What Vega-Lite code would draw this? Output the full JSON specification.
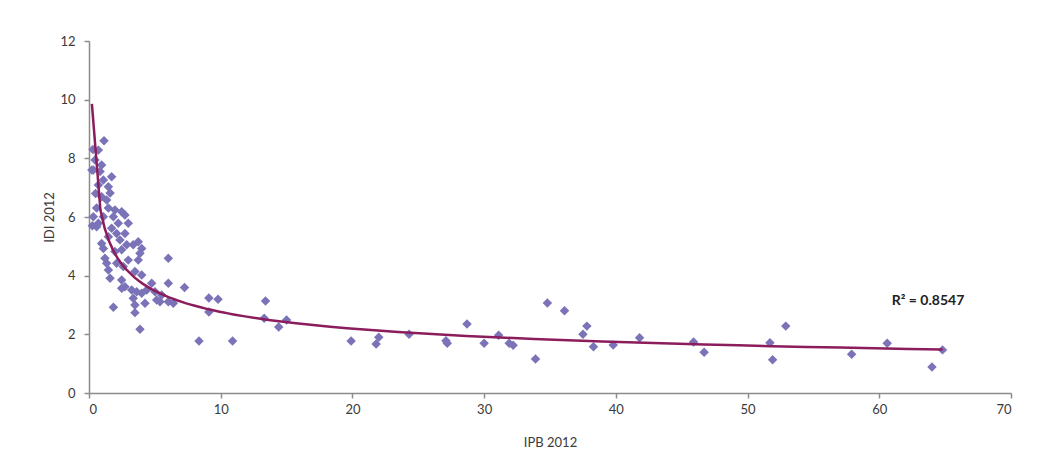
{
  "$schema": "https://vega.github.io/schema/vega-lite/v6.json",
  "width": 922,
  "height": 352,
  "autosize": {"type": "none"},
  "padding": {"left": 89, "top": 41, "right": 34, "bottom": 77},
  "background": "white",
  "config": {
    "view": {"stroke": null},
    "font": "Lato",
    "axis": {
      "grid": false,
      "domainColor": "#8c8c8c",
      "domainWidth": 1.5,
      "tickColor": "#8c8c8c",
      "tickWidth": 1.5,
      "tickSize": 5,
      "labelColor": "#3a3a3a",
      "labelFontSize": 13,
      "labelFont": "Lato",
      "titleFont": "Lato",
      "titleFontSize": 13,
      "titleFontWeight": "normal",
      "titleColor": "#3a3a3a"
    }
  },
  "data": {
    "values": [
      {"IPB": 0.22, "IDI": 7.6}, {"IPB": 0.25, "IDI": 5.7}, {"IPB": 0.3, "IDI": 8.3}, {"IPB": 0.5, "IDI": 6.8},
      {"IPB": 1.14, "IDI": 8.6}, {"IPB": 0.71, "IDI": 8.28}, {"IPB": 0.46, "IDI": 7.94}, {"IPB": 0.96, "IDI": 7.77},
      {"IPB": 0.33, "IDI": 7.6}, {"IPB": 0.84, "IDI": 7.55}, {"IPB": 1.72, "IDI": 7.37}, {"IPB": 1.09, "IDI": 7.26},
      {"IPB": 0.71, "IDI": 7.09}, {"IPB": 1.47, "IDI": 7.03}, {"IPB": 1.6, "IDI": 6.82}, {"IPB": 0.96, "IDI": 6.69},
      {"IPB": 1.34, "IDI": 6.58}, {"IPB": 0.58, "IDI": 6.31}, {"IPB": 1.47, "IDI": 6.31}, {"IPB": 1.97, "IDI": 6.24},
      {"IPB": 2.48, "IDI": 6.18}, {"IPB": 0.33, "IDI": 6.01}, {"IPB": 1.09, "IDI": 6.01}, {"IPB": 1.85, "IDI": 6.01},
      {"IPB": 2.73, "IDI": 6.07}, {"IPB": 2.98, "IDI": 5.79}, {"IPB": 0.71, "IDI": 5.79}, {"IPB": 2.22, "IDI": 5.79},
      {"IPB": 0.58, "IDI": 5.67}, {"IPB": 1.72, "IDI": 5.62}, {"IPB": 2.1, "IDI": 5.44}, {"IPB": 2.73, "IDI": 5.44},
      {"IPB": 1.47, "IDI": 5.33}, {"IPB": 2.35, "IDI": 5.22}, {"IPB": 0.96, "IDI": 5.1}, {"IPB": 3.74, "IDI": 5.16},
      {"IPB": 2.86, "IDI": 5.05}, {"IPB": 3.36, "IDI": 5.05}, {"IPB": 1.09, "IDI": 4.93}, {"IPB": 4.0, "IDI": 4.93},
      {"IPB": 2.48, "IDI": 4.88}, {"IPB": 1.97, "IDI": 4.82}, {"IPB": 3.87, "IDI": 4.76}, {"IPB": 1.21, "IDI": 4.59},
      {"IPB": 2.98, "IDI": 4.53}, {"IPB": 3.74, "IDI": 4.53}, {"IPB": 6.02, "IDI": 4.59}, {"IPB": 1.34, "IDI": 4.42},
      {"IPB": 2.1, "IDI": 4.42}, {"IPB": 2.6, "IDI": 4.31}, {"IPB": 1.47, "IDI": 4.19}, {"IPB": 3.49, "IDI": 4.14},
      {"IPB": 1.6, "IDI": 3.91}, {"IPB": 2.48, "IDI": 3.85}, {"IPB": 4.0, "IDI": 4.02}, {"IPB": 2.73, "IDI": 3.62},
      {"IPB": 6.02, "IDI": 3.74}, {"IPB": 4.76, "IDI": 3.74}, {"IPB": 3.24, "IDI": 3.51}, {"IPB": 4.38, "IDI": 3.51},
      {"IPB": 2.48, "IDI": 3.57}, {"IPB": 3.62, "IDI": 3.45}, {"IPB": 5.01, "IDI": 3.45}, {"IPB": 7.25, "IDI": 3.6},
      {"IPB": 4.0, "IDI": 3.4}, {"IPB": 3.36, "IDI": 3.23}, {"IPB": 5.52, "IDI": 3.34}, {"IPB": 5.14, "IDI": 3.17},
      {"IPB": 6.02, "IDI": 3.11}, {"IPB": 4.25, "IDI": 3.06}, {"IPB": 3.49, "IDI": 3.0}, {"IPB": 5.39, "IDI": 3.11},
      {"IPB": 1.85, "IDI": 2.92}, {"IPB": 3.49, "IDI": 2.74}, {"IPB": 3.87, "IDI": 2.17}, {"IPB": 6.4, "IDI": 3.06},
      {"IPB": 8.35, "IDI": 1.77}, {"IPB": 9.1, "IDI": 3.24}, {"IPB": 9.8, "IDI": 3.2}, {"IPB": 9.1, "IDI": 2.76},
      {"IPB": 10.9, "IDI": 1.77}, {"IPB": 13.4, "IDI": 3.14}, {"IPB": 13.3, "IDI": 2.55}, {"IPB": 14.4, "IDI": 2.25},
      {"IPB": 15.0, "IDI": 2.49}, {"IPB": 19.9, "IDI": 1.77}, {"IPB": 21.8, "IDI": 1.67}, {"IPB": 22.0, "IDI": 1.9},
      {"IPB": 24.3, "IDI": 2.0}, {"IPB": 27.2, "IDI": 1.7}, {"IPB": 27.1, "IDI": 1.78}, {"IPB": 28.7, "IDI": 2.35},
      {"IPB": 30.0, "IDI": 1.7}, {"IPB": 31.1, "IDI": 1.97}, {"IPB": 31.9, "IDI": 1.7}, {"IPB": 32.2, "IDI": 1.63},
      {"IPB": 33.9, "IDI": 1.16}, {"IPB": 34.8, "IDI": 3.07}, {"IPB": 36.1, "IDI": 2.8}, {"IPB": 37.5, "IDI": 2.0},
      {"IPB": 37.8, "IDI": 2.28}, {"IPB": 38.3, "IDI": 1.58}, {"IPB": 39.8, "IDI": 1.64}, {"IPB": 41.8, "IDI": 1.88},
      {"IPB": 45.9, "IDI": 1.74}, {"IPB": 46.7, "IDI": 1.39}, {"IPB": 51.7, "IDI": 1.71}, {"IPB": 51.9, "IDI": 1.13},
      {"IPB": 52.9, "IDI": 2.28}, {"IPB": 57.9, "IDI": 1.32}, {"IPB": 60.6, "IDI": 1.7}, {"IPB": 64.0, "IDI": 0.89},
      {"IPB": 64.8, "IDI": 1.47}
    ]
  },
  "layer": [
    {
      "mark": {"type": "point", "shape": "diamond", "filled": true, "size": 90, "color": "#7b73b8", "opacity": 1},
      "encoding": {
        "x": {
          "field": "IPB",
          "type": "quantitative",
          "scale": {"domain": [0, 70], "nice": false, "zero": false},
          "axis": {"title": "IPB 2012", "values": [0, 10, 20, 30, 40, 50, 60, 70], "labelPadding": 5, "titlePadding": 20}
        },
        "y": {
          "field": "IDI",
          "type": "quantitative",
          "scale": {"domain": [0, 12], "nice": false, "zero": false},
          "axis": {"title": "IDI 2012", "values": [0, 2, 4, 6, 8, 10, 12], "labelPadding": 9, "titlePadding": 3}
        }
      }
    },
    {
      "transform": [{"regression": "IDI", "on": "IPB", "method": "pow"}],
      "mark": {"type": "line", "color": "#8b1d5c", "strokeWidth": 2.5},
      "encoding": {
        "x": {"field": "IPB", "type": "quantitative"},
        "y": {"field": "IDI", "type": "quantitative"}
      }
    },
    {
      "data": {"values": [{"label": "R² = 0.8547"}]},
      "mark": {"type": "text", "fontWeight": "bold", "fontSize": 14, "font": "Lato", "color": "#222222"},
      "encoding": {
        "x": {"datum": 63.7, "type": "quantitative"},
        "y": {"datum": 3.14, "type": "quantitative"},
        "text": {"field": "label"}
      }
    }
  ]
}
